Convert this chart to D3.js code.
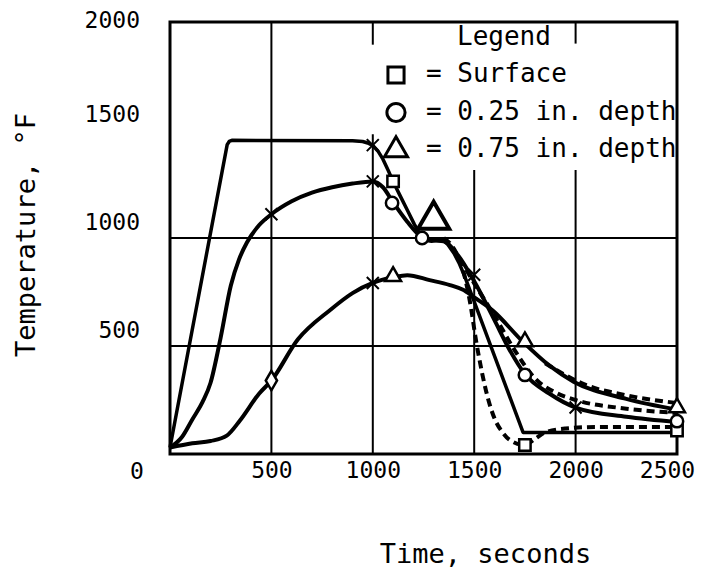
<!DOCTYPE html>
<html>
<head>
<meta charset="utf-8">
<script src="https://cdn.jsdelivr.net/npm/d3@7"></script>
<style>
  body { margin: 0; background: #fff; }
  text { font-family: "DejaVu Sans Mono", monospace; fill: #000; }
</style>
</head>
<body>
<div id="chart"></div>
<script>
// tick values
const xTicks = [500, 1000, 1500, 2000, 2500];
const yTicks = [500, 1000, 1500, 2000];

// calculated curves (solid)
const surfaceCalc = [[0, 30], [282, 1432], [292, 1447], [305, 1452], [900, 1450], [950, 1447], [975, 1440],
    [1000, 1428], [1025, 1403], [1050, 1365], [1075, 1315], [1100, 1262], [1135, 1195], [1170, 1130],
    [1205, 1063], [1240, 1005], [1265, 988], [1290, 985], [1315, 990], [1340, 993], [1370, 970], [1400, 930],
    [1425, 885], [1450, 830], [1494, 720], [1741, 100], [2500, 100]];
const quarterCalc = [[0, 30], [60, 80], [110, 160], [160, 240], [200, 330], [250, 540], [300, 780], [340, 900],
    [380, 980], [440, 1060], [500, 1110], [600, 1170], [700, 1210], [800, 1235], [900, 1252], [1000, 1262],
    [1050, 1235], [1100, 1165], [1170, 1075], [1240, 1005], [1290, 990], [1350, 985], [1420, 920], [1500, 800],
    [1600, 620], [1670, 490], [1750, 370], [1870, 280], [2000, 215], [2250, 172], [2500, 148]];
const threeQuarterCalc = [[0, 30], [110, 50], [200, 60], [280, 85], [345, 155], [440, 280], [500, 340],
    [630, 530], [790, 667], [900, 745], [1000, 792], [1100, 818], [1170, 828], [1280, 805], [1380, 782],
    [1445, 760], [1500, 725], [1590, 665], [1740, 520], [1870, 410], [1990, 335], [2250, 255], [2500, 205]];

// measured curves (dashed)
const surfaceTest = [[1350, 1000], [1400, 950], [1445, 850], [1480, 700], [1510, 520], [1540, 370], [1570, 250],
    [1600, 165], [1640, 100], [1680, 62], [1750, 42], [1800, 70], [1850, 100], [1950, 118], [2100, 125], [2500, 125]];
const quarterTest = [[1350, 1000], [1430, 900], [1500, 790], [1600, 640], [1700, 480], [1800, 350], [1900, 285],
    [2000, 250], [2250, 210], [2500, 190]];
const threeQuarterTest = [[1850, 420], [1950, 365], [2050, 320], [2250, 272], [2500, 236]];

// data points
const squarePts = [[1100, 1262], [1750, 42], [2500, 108]];
const circlePts = [[1095, 1162], [1243, 1000], [1750, 366], [2500, 152]];
const trianglePts = [[1100, 822], [1750, 520], [2500, 215]];
const bigTrianglePts = [[1300, 1085]];
const crossPts = [[500, 1110], [1000, 1430], [1000, 1262], [1000, 792], [1500, 830], [2000, 215]];
const diamondPts = [[500, 340]];

const legendItems = [
    { shape: "square", label: "= Surface" },
    { shape: "circle", label: "= 0.25 in. depth" },
    { shape: "triangle", label: "= 0.75 in. depth" }
];

const margin = { top: 22, right: 30, bottom: 123, left: 170 };
const width = 707 - margin.left - margin.right;
const height = 577 - margin.top - margin.bottom;

const svg = d3.select("#chart")
    .append("svg")
    .attr("width", 707)
    .attr("height", 577)
    .append("g")
    .attr("transform", `translate(${margin.left},${margin.top})`);

const x = d3.scaleLinear().domain([0, 2500]).range([0, width]);
const y = d3.scaleLinear().domain([0, 2000]).range([height, 0]);

// grid lines (the legend interrupts some of them)
const vGrid = [
    { v: 500, spans: [[0, 2000]] },
    { v: 1000, spans: [[0, 1480], [1895, 2000]] },
    { v: 1500, spans: [[0, 1315]] },
    { v: 2000, spans: [[0, 1315], [1900, 2000]] }
];
vGrid.forEach(g => {
    g.spans.forEach(s => {
        svg.append("line")
            .attr("x1", x(g.v)).attr("x2", x(g.v))
            .attr("y1", y(s[0])).attr("y2", y(s[1]))
            .attr("stroke", "#000").attr("stroke-width", 2);
    });
});
[500, 1000].forEach(v => {
    svg.append("line")
        .attr("x1", 0).attr("x2", width)
        .attr("y1", y(v)).attr("y2", y(v))
        .attr("stroke", "#000").attr("stroke-width", 2);
});

// frame
svg.append("rect")
    .attr("width", width).attr("height", height)
    .attr("fill", "none").attr("stroke", "#000").attr("stroke-width", 3);

// axes labels
const yAxis = svg.append("g")
    .call(d3.axisLeft(y).tickValues(yTicks).tickFormat(d3.format("d")).tickSize(0).tickPadding(30));
yAxis.select(".domain").remove();
yAxis.selectAll("text")
    .style("font-size", "23px")
    .attr("dy", d => d === 2000 ? "0.25em" : "-0.38em");

const xAxis = svg.append("g")
    .attr("transform", `translate(0,${height})`)
    .call(d3.axisBottom(x).tickValues(xTicks).tickFormat(d3.format("d")).tickSize(0).tickPadding(8));
xAxis.select(".domain").remove();
xAxis.selectAll("text")
    .style("font-size", "23px")
    .attr("dx", d => d === 2500 ? "-10" : "0");

svg.append("text")
    .attr("x", -33)
    .attr("y", height + 25)
    .attr("text-anchor", "middle")
    .style("font-size", "23px")
    .text("0");

svg.append("text")
    .attr("x", width / 2 + 62)
    .attr("y", height + 109)
    .attr("text-anchor", "middle")
    .style("font-size", "27px")
    .text("Time, seconds");

svg.append("text")
    .attr("transform", `translate(${-135},${213}) rotate(-90)`)
    .attr("text-anchor", "middle")
    .style("font-size", "27px")
    .text("Temperature, °F");

// curves
const line = d3.line()
    .x(d => x(d[0]))
    .y(d => y(d[1]))
    .curve(d3.curveMonotoneX);

const straightLine = d3.line()
    .x(d => x(d[0]))
    .y(d => y(d[1]));

svg.append("path").datum(surfaceCalc)
    .attr("d", straightLine).attr("fill", "none").attr("stroke", "#000")
    .attr("stroke-width", 3.5).attr("stroke-linejoin", "round");
svg.append("path").datum(quarterCalc)
    .attr("d", line).attr("fill", "none").attr("stroke", "#000").attr("stroke-width", 4);
svg.append("path").datum(threeQuarterCalc)
    .attr("d", line).attr("fill", "none").attr("stroke", "#000").attr("stroke-width", 4);

[surfaceTest, quarterTest, threeQuarterTest].forEach(series => {
    svg.append("path").datum(series)
        .attr("d", line).attr("fill", "none").attr("stroke", "#000")
        .attr("stroke-width", 4).attr("stroke-dasharray", "8,5");
});

// point markers
function drawSymbols(pts, type, size, sw) {
    svg.selectAll(null)
        .data(pts)
        .enter().append("path")
        .attr("transform", d => `translate(${x(d[0])},${y(d[1])})`)
        .attr("d", d3.symbol().type(type).size(size))
        .attr("fill", "#fff")
        .attr("stroke", "#000")
        .attr("stroke-width", sw);
}
drawSymbols(squarePts, d3.symbolSquare, 130, 2.5);
drawSymbols(circlePts, d3.symbolCircle, 120, 2.5);
drawSymbols(trianglePts, d3.symbolTriangle, 110, 2.5);
drawSymbols(bigTrianglePts, d3.symbolTriangle, 420, 4);
drawSymbols(diamondPts, d3.symbolDiamond, 110, 2.5);

svg.selectAll(".cross")
    .data(crossPts)
    .enter().append("path")
    .attr("class", "cross")
    .attr("transform", d => `translate(${x(d[0])},${y(d[1])})`)
    .attr("d", "M-6,-6L6,6M-6,6L6,-6")
    .attr("stroke", "#000")
    .attr("stroke-width", 2);

// legend
const legend = svg.append("g").attr("transform", `translate(${226},0)`);
legend.append("text")
    .attr("x", 61).attr("y", 23)
    .style("font-size", "26px")
    .text("Legend");

const legendSymbol = { square: d3.symbolSquare, circle: d3.symbolCircle, triangle: d3.symbolTriangle };
legendItems.forEach((item, i) => {
    const rowY = 60 + i * 37.5;
    legend.append("path")
        .attr("transform", `translate(0,${rowY - 7})`)
        .attr("d", d3.symbol().type(legendSymbol[item.shape]).size(item.shape === "triangle" ? 230 : 260))
        .attr("fill", "#fff")
        .attr("stroke", "#000")
        .attr("stroke-width", 3);
    legend.append("text")
        .attr("x", 30).attr("y", rowY)
        .style("font-size", "26px")
        .text(item.label);
});
</script>
</body>
</html>
